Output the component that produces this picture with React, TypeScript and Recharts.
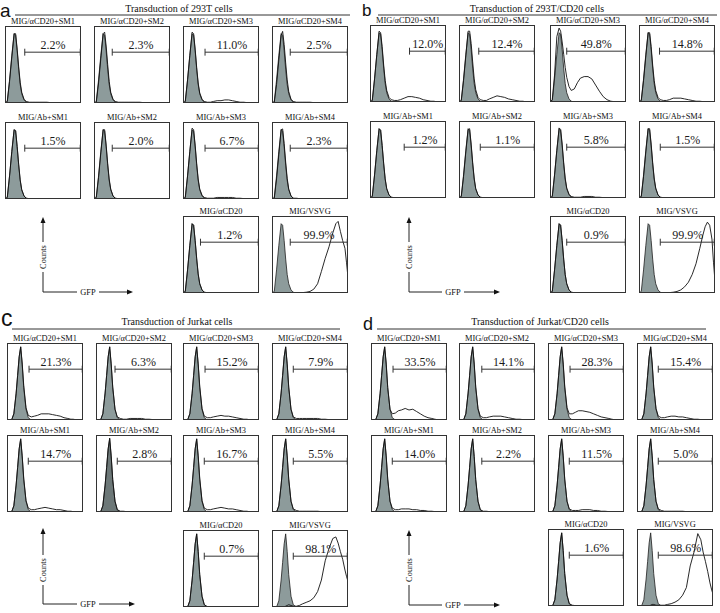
import React from 'react';
import { ComposedChart, Area, Line, XAxis, YAxis, ReferenceLine } from 'recharts';

// GFP axis bins (percent of the log GFP axis)
const BINS = [0, 3, 6, 9, 12, 14, 16, 18, 20, 22, 25, 28, 32, 36, 40, 45, 50, 55, 60, 65, 70, 75, 80, 84, 87, 90, 93, 96, 98, 100];

// Control (grey filled) histograms
const CTRL_293T = [0, 2, 30, 62, 90, 88, 68, 44, 24, 12, 4, 1, 0, 0, 0, 0, 0, 0, 0, 0, 0, 0, 0, 0, 0, 0, 0, 0, 0, 0];
const CTRL_JURKAT = [0, 0, 0, 8, 35, 58, 82, 95, 72, 42, 14, 3, 0, 0, 0, 0, 0, 0, 0, 0, 0, 0, 0, 0, 0, 0, 0, 0, 0, 0];

// Panel titles / histogram labels
const PANEL_LETTERS = ['a', 'b', 'c', 'd'];
const PANEL_TITLES = ['Transduction of 293T cells', 'Transduction of 293T/CD20 cells', 'Transduction of Jurkat cells', 'Transduction of Jurkat/CD20 cells'];
const HIST_LABELS = ['MIG/αCD20+SM1', 'MIG/αCD20+SM2', 'MIG/αCD20+SM3', 'MIG/αCD20+SM4', 'MIG/Ab+SM1', 'MIG/Ab+SM2', 'MIG/Ab+SM3', 'MIG/Ab+SM4', 'MIG/αCD20', 'MIG/VSVG'];

// Percent GFP+ values
const PCT_A = ['2.2%', '2.3%', '11.0%', '2.5%', '1.5%', '2.0%', '6.7%', '2.3%', '1.2%', '99.9%'];
const PCT_B = ['12.0%', '12.4%', '49.8%', '14.8%', '1.2%', '1.1%', '5.8%', '1.5%', '0.9%', '99.9%'];
const PCT_C = ['21.3%', '6.3%', '15.2%', '7.9%', '14.7%', '2.8%', '16.7%', '5.5%', '0.7%', '98.1%'];
const PCT_D = ['33.5%', '14.1%', '28.3%', '15.4%', '14.0%', '2.2%', '11.5%', '5.0%', '1.6%', '98.6%'];

// Gate start positions (GFP axis %)
const GATE_A = [26, 24, 29, 24, 26, 24, 29, 24, 23, 24];
const GATE_B = [52, 26, 22, 27, 45, 28, 22, 28, 22, 28];
const GATE_C = [29, 25, 29, 28, 28, 28, 28, 28, 28, 28];
const GATE_D = [29, 30, 29, 28, 28, 30, 28, 28, 28, 28];

// Sample histograms (black line) — panel a
const A1 = [0, 2, 28, 60, 90, 90, 70, 47, 27, 14, 5, 2, 1, 1, 1, 1, 1, 1, 0.5, 0.5, 0.5, 0, 0, 0, 0, 0, 0, 0, 0, 0];
const A2 = [0, 1, 26, 58, 90, 92, 74, 50, 28, 14, 5, 2, 1, 1, 1, 1, 1, 1, 1, 0.5, 0.5, 0, 0, 0, 0, 0, 0, 0, 0, 0];
const A3 = [0, 2, 30, 62, 92, 90, 70, 46, 26, 13, 5, 2, 1, 1, 2, 3, 3, 4, 4, 3, 2, 1, 1, 0.5, 0, 0, 0, 0, 0, 0];
const A4 = [0, 1, 24, 56, 88, 93, 76, 52, 30, 15, 5, 2, 1, 1, 1, 1, 1, 0.5, 0.5, 0.5, 0, 0, 0, 0, 0, 0, 0, 0, 0, 0];
const A5 = [0, 2, 30, 62, 90, 89, 68, 45, 25, 12, 4, 1, 0.5, 0.5, 0.5, 0.5, 0.5, 0, 0, 0, 0, 0, 0, 0, 0, 0, 0, 0, 0, 0];
const A6 = [0, 2, 28, 60, 90, 90, 70, 46, 26, 13, 4, 1, 0.5, 0.5, 0.5, 0.5, 0.5, 0.5, 0, 0, 0, 0, 0, 0, 0, 0, 0, 0, 0, 0];
const A7 = [0, 2, 30, 62, 92, 90, 70, 46, 26, 13, 5, 2, 1, 1, 1, 2, 2, 2, 2, 2, 1, 1, 0.5, 0, 0, 0, 0, 0, 0, 0];
const A8 = [0, 1, 26, 58, 90, 91, 72, 48, 27, 13, 4, 1, 1, 0.5, 0.5, 0.5, 0.5, 0.5, 0, 0, 0, 0, 0, 0, 0, 0, 0, 0, 0, 0];
const A9 = [0, 2, 30, 62, 90, 88, 68, 45, 25, 12, 4, 1, 0.5, 0.5, 0.5, 0, 0, 0, 0, 0, 0, 0, 0, 0, 0, 0, 0, 0, 0, 0];
const A10 = [0, 0, 0, 0, 0, 0, 0, 0, 0, 0, 0, 0, 0, 0.5, 0.5, 1, 2, 5, 12, 28, 45, 60, 78, 90, 93, 80, 68, 58, 40, 20];

// panel b
const B1 = [0, 2, 30, 62, 92, 90, 72, 48, 28, 15, 6, 3, 2, 2, 3, 5, 7, 7, 6, 5, 3, 2, 1, 1, 0.5, 0.5, 0, 0, 0, 0];
const B2 = [0, 2, 28, 60, 92, 92, 76, 52, 30, 16, 6, 3, 2, 2, 4, 6, 8, 7, 6, 4, 3, 2, 1, 1, 0.5, 0, 0, 0, 0, 0];
const B3 = [0, 3, 35, 85, 96, 92, 78, 62, 45, 32, 20, 15, 17, 25, 31, 33, 33, 30, 22, 14, 7, 3, 1, 0.5, 0, 0, 0, 0, 0, 0];
const B4 = [0, 2, 28, 60, 90, 90, 72, 48, 28, 15, 6, 3, 2, 2, 3, 5, 5, 5, 4, 3, 2, 1, 1, 0.5, 0, 0, 0, 0, 0, 0];
const B5 = [0, 2, 30, 62, 90, 88, 68, 45, 25, 12, 4, 1, 0.5, 0.5, 0.5, 0.5, 0, 0, 0, 0, 0, 0, 0, 0, 0, 0, 0, 0, 0, 0];
const B6 = [0, 2, 28, 60, 89, 90, 70, 46, 26, 12, 4, 1, 0.5, 0.5, 0.5, 0, 0, 0, 0, 0, 0, 0, 0, 0, 0, 0, 0, 0, 0, 0];
const B7 = [0, 2, 30, 62, 91, 89, 70, 46, 26, 13, 5, 2, 1, 1, 1, 2, 2, 2, 1, 1, 0.5, 0, 0, 0, 0, 0, 0, 0, 0, 0];
const B8 = [0, 2, 28, 60, 90, 90, 70, 46, 26, 13, 4, 1, 0.5, 0.5, 0.5, 0.5, 0.5, 0, 0, 0, 0, 0, 0, 0, 0, 0, 0, 0, 0, 0];
const B9 = [0, 2, 30, 62, 90, 88, 68, 44, 24, 12, 4, 1, 0.5, 0.5, 0, 0, 0, 0, 0, 0, 0, 0, 0, 0, 0, 0, 0, 0, 0, 0];
const B10 = [0, 0, 0, 0, 0, 0, 0, 0, 0, 0, 0, 0, 0, 0, 0.5, 1, 2, 4, 8, 14, 24, 38, 58, 75, 86, 92, 88, 70, 40, 15];

// panel c
const C1 = [0, 0, 0, 8, 34, 58, 82, 95, 74, 45, 16, 6, 4, 5, 6, 8, 8, 8, 7, 6, 5, 3, 2, 1, 1, 0.5, 0, 0, 0, 0];
const C2 = [0, 0, 0, 8, 35, 58, 82, 95, 73, 43, 14, 4, 2, 1, 1, 2, 2, 2, 2, 1, 1, 0.5, 0, 0, 0, 0, 0, 0, 0, 0];
const C3 = [0, 0, 0, 8, 34, 58, 82, 95, 73, 44, 15, 5, 3, 3, 4, 5, 6, 5, 5, 4, 3, 2, 1, 1, 0.5, 0, 0, 0, 0, 0];
const C4 = [0, 0, 0, 8, 35, 58, 82, 95, 73, 43, 14, 4, 2, 2, 2, 2, 2, 2, 2, 1, 1, 0.5, 0.5, 0, 0, 0, 0, 0, 0, 0];
const C5 = [0, 0, 0, 8, 35, 58, 82, 95, 73, 44, 15, 5, 3, 3, 4, 5, 6, 5, 4, 3, 3, 2, 1, 1, 0.5, 0, 0, 0, 0, 0];
const C6 = [0, 0, 0, 8, 35, 58, 82, 96, 73, 42, 14, 3, 1, 1, 0.5, 0.5, 0.5, 0.5, 0, 0, 0, 0, 0, 0, 0, 0, 0, 0, 0, 0];
const C7 = [0, 0, 0, 8, 35, 58, 82, 95, 73, 44, 15, 5, 3, 3, 4, 5, 6, 5, 4, 4, 3, 2, 1, 1, 0.5, 0, 0, 0, 0, 0];
const C8 = [0, 0, 0, 8, 35, 58, 82, 95, 73, 43, 14, 4, 2, 1, 1, 1, 1, 1, 1, 0.5, 0.5, 0, 0, 0, 0, 0, 0, 0, 0, 0];
const C9 = [0, 0, 0, 8, 35, 58, 82, 95, 72, 42, 14, 3, 0.5, 0.5, 0, 0, 0, 0, 0, 0, 0, 0, 0, 0, 0, 0, 0, 0, 0, 0];
const C10 = [0, 0, 0, 0, 0, 0, 0, 1, 2, 3, 2, 1, 1, 2, 4, 6, 8, 12, 20, 35, 60, 76, 89, 91, 83, 72, 62, 48, 40, 33];

// panel d
const D1 = [0, 0, 0, 8, 34, 58, 82, 95, 74, 42, 14, 8, 9, 12, 13, 15, 13, 14, 11, 8, 5, 3, 2, 1, 0.5, 0, 0, 0, 0, 0];
const D2 = [0, 0, 0, 8, 35, 58, 82, 95, 74, 43, 15, 5, 3, 3, 4, 5, 5, 5, 4, 3, 2, 1, 1, 0.5, 0, 0, 0, 0, 0, 0];
const D3 = [0, 0, 0, 8, 34, 58, 82, 95, 74, 44, 16, 8, 8, 10, 12, 12, 11, 10, 8, 6, 4, 3, 2, 1, 0.5, 0, 0, 0, 0, 0];
const D4 = [0, 0, 0, 8, 35, 58, 82, 95, 74, 43, 15, 5, 3, 3, 4, 5, 5, 4, 4, 3, 2, 1, 1, 0.5, 0, 0, 0, 0, 0, 0];
const D5 = [0, 0, 0, 8, 35, 58, 82, 95, 73, 43, 14, 5, 3, 3, 4, 4, 4, 3, 3, 2, 2, 1, 1, 0.5, 0, 0, 0, 0, 0, 0];
const D6 = [0, 0, 0, 8, 35, 58, 82, 95, 72, 42, 14, 3, 1, 1, 0.5, 0.5, 0.5, 0.5, 0, 0, 0, 0, 0, 0, 0, 0, 0, 0, 0, 0];
const D7 = [0, 0, 0, 8, 35, 58, 82, 95, 73, 43, 14, 4, 2, 2, 2, 3, 3, 3, 2, 2, 1, 1, 0.5, 0, 0, 0, 0, 0, 0, 0];
const D8 = [0, 0, 0, 8, 35, 58, 82, 95, 73, 42, 14, 4, 2, 1, 1, 1, 1, 1, 1, 0.5, 0.5, 0, 0, 0, 0, 0, 0, 0, 0, 0];
const D9 = [0, 0, 0, 8, 35, 58, 82, 95, 72, 42, 14, 3, 1, 0.5, 0.5, 0.5, 0, 0, 0, 0, 0, 0, 0, 0, 0, 0, 0, 0, 0, 0];
const D10 = [0, 0, 0, 0, 0, 0, 0, 1, 2, 2, 1, 1, 1, 1, 2, 3, 5, 8, 14, 24, 52, 70, 94, 86, 70, 58, 45, 30, 22, 15];

const SAMPLES = [
  [A1, A2, A3, A4, A5, A6, A7, A8, A9, A10],
  [B1, B2, B3, B4, B5, B6, B7, B8, B9, B10],
  [C1, C2, C3, C4, C5, C6, C7, C8, C9, C10],
  [D1, D2, D3, D4, D5, D6, D7, D8, D9, D10],
];
const PCTS = [PCT_A, PCT_B, PCT_C, PCT_D];
const GATES = [GATE_A, GATE_B, GATE_C, GATE_D];
const CONTROLS = [CTRL_293T, CTRL_293T, CTRL_JURKAT, CTRL_JURKAT];

// Layout (pixel geometry only)
const LAYOUT = [
  { cols: [5, 94, 183, 272], rows: [26, 122, 216], letter: { x: 0, y: 17, size: 19 }, title: { x: 179, y: 12 }, rule: { x1: 15, x2: 350, y: 15 }, axis: { x: 43, top: 217, bottom: 292, right: 133, countsY: 257, gfpX: 88 } },
  { cols: [370, 459, 550, 639], rows: [25, 121, 216], letter: { x: 362, y: 16, size: 17 }, title: { x: 537, y: 12 }, rule: { x1: 378, x2: 717, y: 15 }, axis: { x: 409, top: 217, bottom: 292, right: 500, countsY: 257, gfpX: 453 } },
  { cols: [7, 96, 183, 272], rows: [343, 435, 530], letter: { x: 1, y: 326, size: 23 }, title: { x: 177, y: 325 }, rule: { x1: 12, x2: 340, y: 329 }, axis: { x: 43, top: 528, bottom: 604, right: 135, countsY: 570, gfpX: 88 } },
  { cols: [371, 459, 548, 637], rows: [343, 435, 529], letter: { x: 363, y: 330, size: 18 }, title: { x: 540, y: 325 }, rule: { x1: 377, x2: 706, y: 329 }, axis: { x: 409, top: 530, bottom: 605, right: 500, countsY: 570, gfpX: 453 } },
];

const BOX_W = 76;
const BOX_H = 77;
const SERIF = '"Liberation Serif", "DejaVu Serif", serif';
const SANS = '"Liberation Sans", Arial, sans-serif';

function boxPos(p: number, i: number) {
  const L = LAYOUT[p];
  if (i < 4) return { x: L.cols[i], y: L.rows[0] };
  if (i < 8) return { x: L.cols[i - 4], y: L.rows[1] };
  return { x: L.cols[i - 6], y: L.rows[2] };
}

function Hist({ p, i }: { p: number; i: number }) {
  const { x, y } = boxPos(p, i);
  const control = CONTROLS[p];
  const sample = SAMPLES[p][i];
  const gate = GATES[p][i];
  const pct = PCTS[p][i];
  const dark = p === 2 && i === 5;
  const data = BINS.map((b, k) => ({ gfp: b, ctrl: control[k], smp: sample[k] }));
  return (
    <div style={{ position: 'absolute', left: x, top: y, width: BOX_W, height: BOX_H }}>
      <ComposedChart width={BOX_W} height={BOX_H} data={data} margin={{ top: 0, right: 0, bottom: 0, left: 0 }}>
        <XAxis dataKey="gfp" type="number" domain={[0, 100]} hide />
        <YAxis type="number" domain={[0, 100]} hide allowDataOverflow />
        <Area dataKey="ctrl" type="linear" fill={dark ? '#6c7777' : '#8d9b9b'} fillOpacity={1} stroke="#1e1e1e" strokeWidth={0.8} isAnimationActive={false} dot={false} activeDot={false} />
        <Line dataKey="smp" type="linear" stroke="#111111" strokeWidth={0.9} dot={false} activeDot={false} isAnimationActive={false} />
        <ReferenceLine
          segment={[{ x: gate, y: 66 }, { x: 100, y: 66 }]}
          stroke="#333333"
          strokeWidth={1}
          ifOverflow="visible"
          label={{ value: pct, position: 'top', offset: 3, fontSize: 12, fill: '#1a1a1a', fontFamily: SERIF }}
        />
        <ReferenceLine segment={[{ x: gate, y: 61.5 }, { x: gate, y: 70.5 }]} stroke="#333333" strokeWidth={1} ifOverflow="visible" />
        <ReferenceLine segment={[{ x: 99, y: 61.5 }, { x: 99, y: 70.5 }]} stroke="#333333" strokeWidth={1} ifOverflow="visible" />
      </ComposedChart>
      <div style={{ position: 'absolute', left: 0, top: 0, width: BOX_W, height: BOX_H, border: '1px solid #333', boxSizing: 'border-box', pointerEvents: 'none' }} />
    </div>
  );
}

function Overlay() {
  return (
    <svg width={720} height={613} style={{ position: 'absolute', left: 0, top: 0, pointerEvents: 'none' }}>
      {LAYOUT.map((L, p) => {
        const a = L.axis;
        return (
          <g key={p}>
            <text x={L.letter.x} y={L.letter.y} fontSize={L.letter.size} fontFamily={SANS} fill="#111">{PANEL_LETTERS[p]}</text>
            <text x={L.title.x} y={L.title.y} fontSize={10} fontFamily={SERIF} textAnchor="middle" fill="#111">{PANEL_TITLES[p]}</text>
            <line x1={L.rule.x1} x2={L.rule.x2} y1={L.rule.y} y2={L.rule.y} stroke="#333" strokeWidth={1} />
            {HIST_LABELS.map((lab, i) => {
              const pos = boxPos(p, i);
              return (
                <text key={i} x={pos.x + BOX_W / 2} y={pos.y - 2} fontSize={8.4} fontFamily={SERIF} textAnchor="middle" fill="#111">{lab}</text>
              );
            })}
            {/* Counts axis */}
            <line x1={a.x} x2={a.x} y1={a.bottom} y2={a.countsY + 15} stroke="#222" strokeWidth={1} />
            <line x1={a.x} x2={a.x} y1={a.countsY - 15} y2={a.top + 4} stroke="#222" strokeWidth={1} />
            <polygon points={`${a.x - 2.5},${a.top + 6} ${a.x + 2.5},${a.top + 6} ${a.x},${a.top}`} fill="#111" />
            <text x={a.x + 3} y={a.countsY} fontSize={8.4} fontFamily={SERIF} textAnchor="middle" transform={`rotate(-90 ${a.x + 3} ${a.countsY})`} fill="#111">Counts</text>
            {/* GFP axis */}
            <line x1={a.x} x2={a.gfpX - 11} y1={a.bottom} y2={a.bottom} stroke="#222" strokeWidth={1} />
            <line x1={a.gfpX + 11} x2={a.right - 4} y1={a.bottom} y2={a.bottom} stroke="#222" strokeWidth={1} />
            <polygon points={`${a.right - 6},${a.bottom - 2.5} ${a.right - 6},${a.bottom + 2.5} ${a.right},${a.bottom}`} fill="#111" />
            <text x={a.gfpX} y={a.bottom + 3} fontSize={8.4} fontFamily={SERIF} textAnchor="middle" fill="#111">GFP</text>
          </g>
        );
      })}
    </svg>
  );
}

export default function App() {
  const hists: React.ReactNode[] = [];
  for (let p = 0; p < 4; p++) {
    for (let i = 0; i < 10; i++) {
      hists.push(<Hist key={`${p}-${i}`} p={p} i={i} />);
    }
  }
  return (
    <div style={{ position: 'absolute', left: 0, top: 0, width: 720, height: 613, background: '#fff', overflow: 'hidden' }}>
      {hists}
      <Overlay />
    </div>
  );
}
